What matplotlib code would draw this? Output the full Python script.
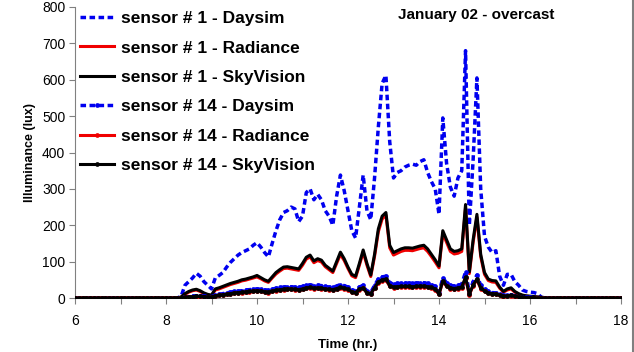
import numpy as np
import matplotlib
matplotlib.use("Agg")
import matplotlib.pyplot as plt
from matplotlib.lines import Line2D

plt.rcParams['font.family'] = ['Liberation Sans', 'DejaVu Sans']

# time grid (hours), 5-minute steps from 6:00 to 18:00
hours = np.arange(145) / 12.0 + 6.0

d1 = [
    0, 0, 0, 0, 0, 0, 0, 0, 0, 0, 0, 0,             # 6
    0, 0, 0, 0, 0, 0, 0, 0, 0, 0, 0, 0,             # 7
    0, 0, 0, 0, 5, 35, 45, 55, 68, 60, 45, 35,      # 8
    25, 55, 62, 70, 85, 98, 108, 118, 125, 130, 135, 145,   # 9
    152, 140, 125, 113, 150, 185, 215, 235, 240, 250, 245, 210,  # 10
    225, 290, 300, 270, 285, 270, 240, 225, 200, 280, 338, 295,  # 11
    240, 185, 165, 250, 338, 240, 215, 330, 470, 590, 612, 430,  # 12
    330, 345, 350, 360, 365, 368, 365, 375, 380, 345, 320, 300,  # 13
    230, 495, 370, 305, 280, 330, 350, 680, 200, 380, 605, 300,  # 14
    170, 140, 125, 130, 60, 35, 65, 65, 45, 35, 22, 18,          # 15
    16, 15, 12, 2, 0, 0, 0, 0, 0, 0, 0, 0,                       # 16
    0, 0, 0, 0, 0, 0, 0, 0, 0, 0, 0, 0,                          # 17
    0]

s1 = [
    0, 0, 0, 0, 0, 0, 0, 0, 0, 0, 0, 0,
    0, 0, 0, 0, 0, 0, 0, 0, 0, 0, 0, 0,
    0, 0, 0, 0, 3, 12, 18, 22, 24, 20, 14, 10,
    8, 25, 28, 32, 36, 40, 43, 46, 50, 52, 55, 58,
    62, 56, 50, 46, 58, 70, 78, 85, 86, 84, 82, 80,
    95, 112, 118, 102, 108, 104, 90, 82, 74, 100, 126, 108,
    85, 65, 60, 95, 132, 95, 63, 120, 190, 225, 235, 145,
    125, 130, 135, 138, 138, 137, 140, 143, 145, 135, 120, 105,
    88, 185, 160, 135, 128, 130, 135, 257, 72, 160, 230, 120,
    70, 52, 48, 47, 30, 18, 25, 28, 18, 12, 8, 6,
    5, 4, 3, 2, 1, 0, 0, 0, 0, 0, 0, 0,
    0, 0, 0, 0, 0, 0, 0, 0, 0, 0, 0, 0,
    0]

r1 = [
    0, 0, 0, 0, 0, 0, 0, 0, 0, 0, 0, 0,
    0, 0, 0, 0, 0, 0, 0, 0, 0, 0, 0, 0,
    0, 0, 0, 0, 2, 10, 16, 20, 22, 18, 12, 8,
    6, 22, 25, 29, 33, 37, 40, 43, 47, 49, 52, 55,
    58, 53, 47, 43, 55, 66, 74, 81, 82, 80, 78, 76,
    90, 107, 113, 97, 103, 99, 86, 78, 70, 95, 120, 103,
    81, 61, 56, 90, 126, 90, 59, 114, 182, 217, 228, 138,
    118, 123, 128, 131, 131, 130, 133, 136, 138, 128, 114, 99,
    83, 178, 153, 128, 121, 123, 128, 248, 67, 153, 222, 114,
    65, 48, 44, 43, 27, 16, 22, 25, 16, 10, 7, 5,
    4, 3, 2, 1, 0, 0, 0, 0, 0, 0, 0, 0,
    0, 0, 0, 0, 0, 0, 0, 0, 0, 0, 0, 0,
    0]

d14 = [
    0, 0, 0, 0, 0, 0, 0, 0, 0, 0, 0, 0,
    0, 0, 0, 0, 0, 0, 0, 0, 0, 0, 0, 0,
    0, 0, 0, 0, 1, 3, 4, 5, 6, 6, 5, 4,
    4, 8, 10, 12, 14, 16, 18, 19, 20, 22, 23, 24,
    25, 24, 22, 21, 24, 27, 29, 30, 31, 31, 30, 29,
    32, 35, 36, 34, 35, 34, 32, 30, 29, 33, 37, 34,
    30, 22, 20, 30, 35, 18, 15, 35, 52, 58, 60, 42,
    38, 40, 40, 41, 41, 40, 41, 42, 42, 40, 37, 32,
    15, 55, 42, 35, 33, 35, 38, 72, 15, 45, 63, 35,
    25, 18, 15, 14, 10, 7, 8, 9, 6, 4, 3, 2,
    2, 1, 1, 0, 0, 0, 0, 0, 0, 0, 0, 0,
    0, 0, 0, 0, 0, 0, 0, 0, 0, 0, 0, 0,
    0]

s14 = [
    0, 0, 0, 0, 0, 0, 0, 0, 0, 0, 0, 0,
    0, 0, 0, 0, 0, 0, 0, 0, 0, 0, 0, 0,
    0, 0, 0, 0, 1, 2, 3, 4, 5, 5, 4, 3,
    3, 6, 8, 9, 11, 12, 14, 15, 16, 17, 18, 19,
    20, 19, 17, 16, 19, 21, 23, 24, 25, 25, 24, 23,
    25, 28, 29, 27, 28, 27, 25, 24, 23, 26, 29, 27,
    24, 17, 15, 24, 28, 14, 12, 28, 44, 50, 52, 34,
    30, 31, 32, 32, 32, 31, 32, 33, 33, 31, 29, 25,
    11, 47, 34, 28, 26, 28, 30, 57, 10, 36, 52, 28,
    19, 14, 12, 11, 8, 5, 6, 7, 5, 3, 2, 1,
    1, 1, 0, 0, 0, 0, 0, 0, 0, 0, 0, 0,
    0, 0, 0, 0, 0, 0, 0, 0, 0, 0, 0, 0,
    0]

r14 = [
    0, 0, 0, 0, 0, 0, 0, 0, 0, 0, 0, 0,
    0, 0, 0, 0, 0, 0, 0, 0, 0, 0, 0, 0,
    0, 0, 0, 0, 1, 2, 2, 3, 4, 4, 3, 2,
    2, 5, 7, 8, 10, 11, 13, 14, 15, 16, 17, 18,
    19, 18, 16, 15, 18, 20, 22, 23, 24, 24, 23, 22,
    24, 27, 28, 26, 27, 26, 24, 23, 22, 25, 28, 26,
    23, 16, 14, 23, 27, 13, 11, 27, 42, 48, 50, 32,
    28, 29, 30, 30, 30, 29, 30, 31, 31, 29, 27, 23,
    10, 45, 32, 26, 24, 26, 28, 54, 9, 34, 50, 26,
    18, 13, 11, 10, 7, 4, 5, 6, 4, 2, 1, 1,
    1, 0, 0, 0, 0, 0, 0, 0, 0, 0, 0, 0,
    0, 0, 0, 0, 0, 0, 0, 0, 0, 0, 0, 0,
    0]

labels = ["sensor # 1 - Daysim", "sensor # 1 - Radiance", "sensor # 1 - SkyVision",
          "sensor # 14 - Daysim", "sensor # 14 - Radiance", "sensor # 14 - SkyVision"]
title = "January 02 - overcast"

fig = plt.figure(figsize=(6.34, 3.52), dpi=100)
ax = fig.add_axes([75/634, 1 - 298/352, (621 - 75)/634, (298 - 7)/352])

blue = "#0000f0"
red = "#f00000"
dash = (0, (1.6, 1.0))
ax.plot(hours, d1, color=blue, lw=2.5, ls=dash, label=labels[0], zorder=3)
ax.plot(hours, r1, color=red, lw=2.2, label=labels[1], zorder=4)
ax.plot(hours, s1, color="black", lw=2.2, label=labels[2], zorder=5)
ax.plot(hours, d14, color=blue, lw=2.5, ls=dash, marker="o", ms=3.4,
        markeredgewidth=0, label=labels[3], zorder=6)
ax.plot(hours, r14, color=red, lw=2.2, marker="o", ms=3.4,
        markeredgewidth=0, label=labels[4], zorder=7)
ax.plot(hours, s14, color="black", lw=2.2, marker="o", ms=3.4,
        markeredgewidth=0, label=labels[5], zorder=8)

ax.set_xlim(6, 18)
ax.set_ylim(0, 800)
ax.set_xticks(np.arange(6, 19, 2))
ax.set_xticks(np.arange(6, 19, 1), minor=True)
ax.set_yticks(np.arange(0, 801, 100))
for s in ["top", "right"]:
    ax.spines[s].set_visible(False)
for s in ["left", "bottom"]:
    ax.spines[s].set_color("#808080")
    ax.spines[s].set_linewidth(0.8)
ax.tick_params(axis="both", which="both", direction="out", color="#808080",
               labelsize=10, width=0.8, length=4)
ax.tick_params(axis="x", which="major", pad=7.5)
ax.tick_params(axis="y", which="major", pad=3)
ax.set_xlabel("Time (hr.)", fontsize=9.5, fontweight="bold", labelpad=8)
ax.set_ylabel("Illuminance (lux)", fontsize=9, fontweight="bold", labelpad=4)
ax.text((476 - 75) / 546, (298 - 15) / 291, title, transform=ax.transAxes,
        ha="center", va="center", fontsize=11, fontweight="bold")

leg = ax.legend(loc="upper left", bbox_to_anchor=(-0.004, 1.010), frameon=False,
                prop={"weight": "bold", "size": 12.5}, labelspacing=0.82,
                handlelength=2.0, handletextpad=0.4, borderaxespad=0.0,
                numpoints=1)

fig.add_artist(Line2D([632.5/634, 632.5/634], [0, 1], transform=fig.transFigure,
                      color="#808080", lw=1.5))

fig.savefig("out.png", dpi=100)
